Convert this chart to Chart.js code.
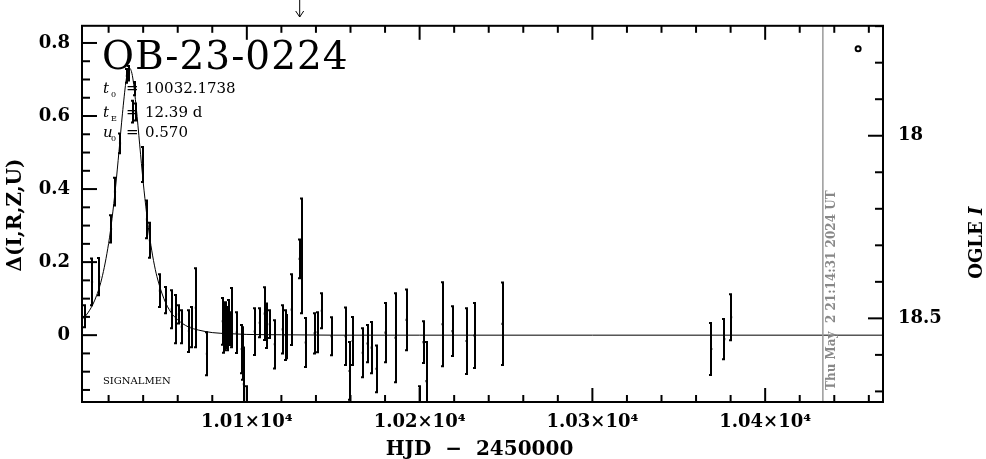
<!DOCTYPE html>
<html>
<head>
<meta charset="utf-8">
<script src="https://cdn.jsdelivr.net/npm/chart.js@4.4.1/dist/chart.umd.min.js"></script>
<style>
  body { margin: 0; background: #fff; }
  #lc { display: block; }
</style>
</head>
<body>
<canvas id="lc" width="986" height="459"></canvas>
<script>
// light curve OB-23-0224

// observed points: HJD-2450000, delta mag, error
const obsHJD = [
    10006.4, 10010.4, 10014.5, 10021.4, 10023.7, 10026.6, 10030.6, 10031.8, 10034.1, 10035.3,
    10035.8, 10039.9, 10042.2, 10043.9, 10049.7, 10053.2, 10056.6, 10059.0, 10060.7, 10062.4,
    10066.5, 10068.2, 10070.5, 10076.9, 10086.1, 10086.7, 10087.3, 10087.9, 10088.4, 10089.0,
    10089.6, 10090.2, 10091.3, 10094.2, 10097.1, 10097.7, 10098.3, 10100.0, 10104.6, 10107.5,
    10110.4, 10111.6, 10113.3, 10116.2, 10120.8, 10122.5, 10123.1, 10126.0, 10130.6, 10131.8,
    10134.1, 10139.3, 10141.0, 10143.4, 10149.1, 10157.2, 10159.5, 10161.3, 10167.1, 10169.9,
    10172.3, 10175.1, 10180.3, 10186.1, 10192.5, 10200.0, 10202.3, 10204.0, 10213.3, 10219.1,
    10227.2, 10231.8, 10248.0, 10368.8, 10376.3, 10380.3
];
const obsDelta = [
    0.052, 0.146, 0.160, 0.291, 0.393, 0.525, 0.710, 0.717, 0.612, 0.675,
    0.611, 0.467, 0.317, 0.260, 0.122, 0.096, 0.071, 0.044, 0.057, 0.023,
    0.011, 0.022, 0.075, -0.051, 0.038, 0.020, 0.014, 0.027, 0.030, 0.018,
    0.055, 0.018, 0.048, 0.007, -0.038, -0.050, -0.134, -0.260, 0.010, 0.034,
    0.059, 0.026, 0.030, -0.025, 0.016, 0.000, -0.004, 0.070, 0.209, 0.217,
    -0.020, 0.005, 0.008, 0.067, -0.003, -0.003, -0.098, -0.016, -0.048, -0.023,
    -0.034, -0.092, 0.007, -0.007, 0.042, -0.200, -0.019, -0.126, 0.030, 0.011,
    -0.016, -0.001, 0.031, -0.038, -0.011, 0.049
];
const obsErr = [
    0.030, 0.064, 0.051, 0.037, 0.038, 0.027, 0.019, 0.020, 0.030, 0.018,
    0.023, 0.048, 0.052, 0.048, 0.045, 0.036, 0.052, 0.066, 0.025, 0.045,
    0.057, 0.055, 0.108, 0.059, 0.064, 0.068, 0.055, 0.063, 0.038, 0.059,
    0.041, 0.045, 0.081, 0.056, 0.066, 0.072, 0.100, 0.120, 0.064, 0.040,
    0.072, 0.061, 0.038, 0.066, 0.066, 0.068, 0.059, 0.097, 0.053, 0.157,
    0.067, 0.055, 0.055, 0.048, 0.052, 0.079, 0.079, 0.066, 0.067, 0.051,
    0.070, 0.064, 0.081, 0.122, 0.083, 0.060, 0.057, 0.107, 0.115, 0.068,
    0.090, 0.089, 0.113, 0.071, 0.055, 0.063
];

// model curve
const modelHJD = [
    10004.6, 10008, 10012, 10016, 10020, 10022, 10024, 10026, 10028, 10030,
    10031, 10032.17, 10033, 10034, 10036, 10038, 10040, 10042, 10044, 10046,
    10048, 10052, 10056, 10060, 10066, 10072, 10080, 10090, 10100, 10120,
    10150, 10200, 10300, 10468.2
];
const modelDelta = [
    0.043, 0.061, 0.096, 0.154, 0.251, 0.320, 0.404, 0.503, 0.606, 0.693,
    0.720, 0.731, 0.725, 0.704, 0.623, 0.521, 0.420, 0.333, 0.261, 0.204,
    0.160, 0.100, 0.063, 0.042, 0.023, 0.014, 0.007, 0.004, 0.002, 0.001,
    0.000, 0.000, 0.000, 0.000
];

const xTickValues = [10100, 10200, 10300, 10400];
const xTickLabels = ['1.01×10⁴', '1.02×10⁴', '1.03×10⁴', '1.04×10⁴'];
const yTickValues = [0, 0.2, 0.4, 0.6, 0.8];
const yTickLabels = ['0', '0.2', '0.4', '0.6', '0.8'];
const magTickValues = [18, 18.5];
const magTickLabels = ['18', '18.5'];

const xMin = 10004.6, xMax = 10468.2;
const yMin = -0.183, yMax = 0.847;
const baseMag = 18.546;          // OGLE I at delta = 0
const nowHJD = 10433.4;          // Thu May 2 2024
const arrowHJD = 10130.6;
const legendMark = [10453.8, 0.784];

const FONT = '"DejaVu Serif", serif';

function tickLine(ctx, x1, y1, x2, y2) {
    ctx.beginPath();
    ctx.moveTo(x1, y1);
    ctx.lineTo(x2, y2);
    ctx.stroke();
}

const pgplotLook = {
    id: 'pgplotLook',
    beforeDraw(chart) {
        const ctx = chart.ctx;
        ctx.save();
        ctx.fillStyle = '#fff';
        ctx.fillRect(0, 0, chart.width, chart.height);
        ctx.restore();
    },
    afterDatasetsDraw(chart) {
        const ctx = chart.ctx;
        const a = chart.chartArea;
        const x = chart.scales.x, y = chart.scales.y;
        ctx.save();
        ctx.beginPath();
        ctx.rect(a.left, a.top, a.right - a.left, a.bottom - a.top);
        ctx.clip();
        ctx.strokeStyle = '#000';
        ctx.lineWidth = 2;
        for (let i = 0; i < obsHJD.length; i++) {
            const px = Math.round(x.getPixelForValue(obsHJD[i]));
            const top = y.getPixelForValue(obsDelta[i] + obsErr[i]);
            const bot = y.getPixelForValue(obsDelta[i] - obsErr[i]);
            tickLine(ctx, px, top, px, bot);
            tickLine(ctx, px - 2, top, px + 1, top);
            tickLine(ctx, px - 2, bot, px + 1, bot);
        }
        ctx.restore();
    },
    afterDraw(chart) {
        const ctx = chart.ctx;
        const a = chart.chartArea;
        const x = chart.scales.x, y = chart.scales.y, m = chart.scales.y2;
        ctx.save();

        // date line
        ctx.strokeStyle = '#999';
        ctx.lineWidth = 1.5;
        const nx = x.getPixelForValue(nowHJD);
        tickLine(ctx, nx, a.top, nx, a.bottom);

        // frame
        ctx.strokeStyle = '#000';
        ctx.lineWidth = 2;
        ctx.strokeRect(a.left, a.top, a.right - a.left, a.bottom - a.top);

        // x ticks, every 20 d, major every 100 d
        for (let k = Math.ceil(xMin / 20); k * 20 <= xMax; k++) {
            const px = x.getPixelForValue(k * 20);
            const len = (k % 5 === 0) ? 14 : 7;
            tickLine(ctx, px, a.bottom, px, a.bottom - len);
            tickLine(ctx, px, a.top, px, a.top + len);
        }
        // left ticks, every 0.05
        for (let k = Math.ceil(yMin / 0.05); k * 0.05 <= yMax; k++) {
            const py = y.getPixelForValue(k * 0.05);
            tickLine(ctx, a.left, py, a.left + ((k % 4 === 0) ? 15 : 8), py);
        }
        // right ticks, every 0.1 mag
        for (let k = Math.ceil((baseMag - yMax) * 10); k / 10 <= baseMag - yMin; k++) {
            const py = m.getPixelForValue(k / 10);
            tickLine(ctx, a.right, py, a.right - ((k % 5 === 0) ? 15 : 8), py);
        }

        // arrow above the frame
        const ax = x.getPixelForValue(arrowHJD);
        ctx.lineWidth = 1;
        tickLine(ctx, ax, 0, ax, 17);
        tickLine(ctx, ax - 4, 11, ax, 17);
        tickLine(ctx, ax + 4, 11, ax, 17);

        // legend symbol
        ctx.lineWidth = 2;
        ctx.beginPath();
        ctx.arc(x.getPixelForValue(legendMark[0]), y.getPixelForValue(legendMark[1]), 2.5, 0, Math.PI * 2);
        ctx.stroke();

        ctx.fillStyle = '#000';
        ctx.textBaseline = 'alphabetic';

        // event name
        ctx.font = '39px ' + FONT;
        ctx.textAlign = 'left';
        ctx.letterSpacing = '1px';
        ctx.fillText('OB-23-0224', a.left + 20, 69);
        ctx.letterSpacing = '0px';

        // fit parameters
        const lines = [['t', '0', '10032.1738', 93], ['t', 'E', '12.39 d', 117], ['u', '0', '0.570', 137]];
        lines.forEach(function (l) {
            ctx.font = 'italic 15px ' + FONT;
            ctx.fillText(l[0], a.left + 21, l[3]);
            ctx.font = '8px ' + FONT;
            ctx.fillText(l[1], a.left + 29, l[3] + 4);
            ctx.font = '15px ' + FONT;
            ctx.fillText('=', a.left + 44, l[3]);
            ctx.fillText(l[2], a.left + 63, l[3]);
        });

        ctx.font = '10px ' + FONT;
        ctx.fillText('SIGNALMEN', a.left + 21, 384);

        // axis titles
        ctx.font = 'bold 20px ' + FONT;
        ctx.textAlign = 'center';
        ctx.fillText('HJD  \u2212  2450000', (a.left + a.right) / 2 - 3, 455);

        ctx.save();
        ctx.translate(21, 215);
        ctx.rotate(-Math.PI / 2);
        ctx.fillText('\u0394(I,R,Z,U)', 0, 0);
        ctx.restore();

        ctx.save();
        ctx.translate(982, 215);
        ctx.rotate(-Math.PI / 2);
        ctx.font = 'bold 18px ' + FONT;
        ctx.textAlign = 'right';
        ctx.fillText('OGLE ', 0, 0);
        ctx.font = 'italic bold 18px ' + FONT;
        ctx.textAlign = 'left';
        ctx.fillText('I', 0, 0);
        ctx.restore();

        // time stamp
        ctx.save();
        ctx.translate(nx + 12, a.bottom - 12);
        ctx.rotate(-Math.PI / 2);
        ctx.fillStyle = '#888';
        ctx.font = 'bold 12px ' + FONT;
        ctx.textAlign = 'left';
        ctx.fillText('Thu May  2 21:14:31 2024 UT', 0, 0);
        ctx.restore();

        ctx.restore();
    }
};

const tickFont = { family: FONT, size: 18, weight: 'bold' };

const ctxLc = document.getElementById('lc').getContext('2d');
const lcChart = new Chart(ctxLc, {
    type: 'scatter',
    data: {
        datasets: [{
            type: 'line',
            data: modelHJD.map(function (t, i) { return { x: t, y: modelDelta[i] }; }),
            borderColor: '#000',
            borderWidth: 1,
            pointRadius: 0,
            cubicInterpolationMode: 'monotone',
            fill: false
        }, {
            data: obsHJD.map(function (t, i) { return { x: t, y: obsDelta[i] }; }),
            backgroundColor: '#000',
            borderColor: '#000',
            pointStyle: 'rect',
            pointRadius: 1.5,
            borderWidth: 0
        }]
    },
    options: {
        responsive: false,
        animation: false,
        devicePixelRatio: 1,
        layout: { padding: { top: 25, left: 0, right: 0, bottom: 0 } },
        plugins: { legend: { display: false }, tooltip: { enabled: false } },
        scales: {
            x: {
                type: 'linear',
                position: 'bottom',
                min: xMin,
                max: xMax,
                grid: { display: false, drawTicks: false },
                border: { display: false },
                afterBuildTicks: function (s) { s.ticks = xTickValues.map(function (v) { return { value: v }; }); },
                afterFit: function (s) { s.height = 57; },
                ticks: {
                    color: '#000',
                    font: tickFont,
                    padding: 10,
                    maxRotation: 0,
                    callback: function (v) { return xTickLabels[xTickValues.indexOf(v)]; }
                }
            },
            y: {
                position: 'left',
                min: yMin,
                max: yMax,
                grid: { display: false, drawTicks: false },
                border: { display: false },
                afterBuildTicks: function (s) { s.ticks = yTickValues.map(function (v) { return { value: v }; }); },
                afterFit: function (s) { s.width = 82; },
                ticks: {
                    color: '#000',
                    font: tickFont,
                    padding: 12,
                    callback: function (v) { return yTickLabels[yTickValues.indexOf(v)]; }
                }
            },
            y2: {
                position: 'right',
                reverse: true,
                min: baseMag - yMax,
                max: baseMag - yMin,
                grid: { display: false, drawTicks: false },
                border: { display: false },
                afterBuildTicks: function (s) { s.ticks = magTickValues.map(function (v) { return { value: v }; }); },
                afterFit: function (s) { s.width = 103; },
                ticks: {
                    color: '#000',
                    font: { family: FONT, size: 18, weight: 'bold' },
                    padding: 15,
                    callback: function (v) { return magTickLabels[magTickValues.indexOf(v)]; }
                }
            }
        }
    },
    plugins: [pgplotLook]
});
</script>
</body>
</html>
